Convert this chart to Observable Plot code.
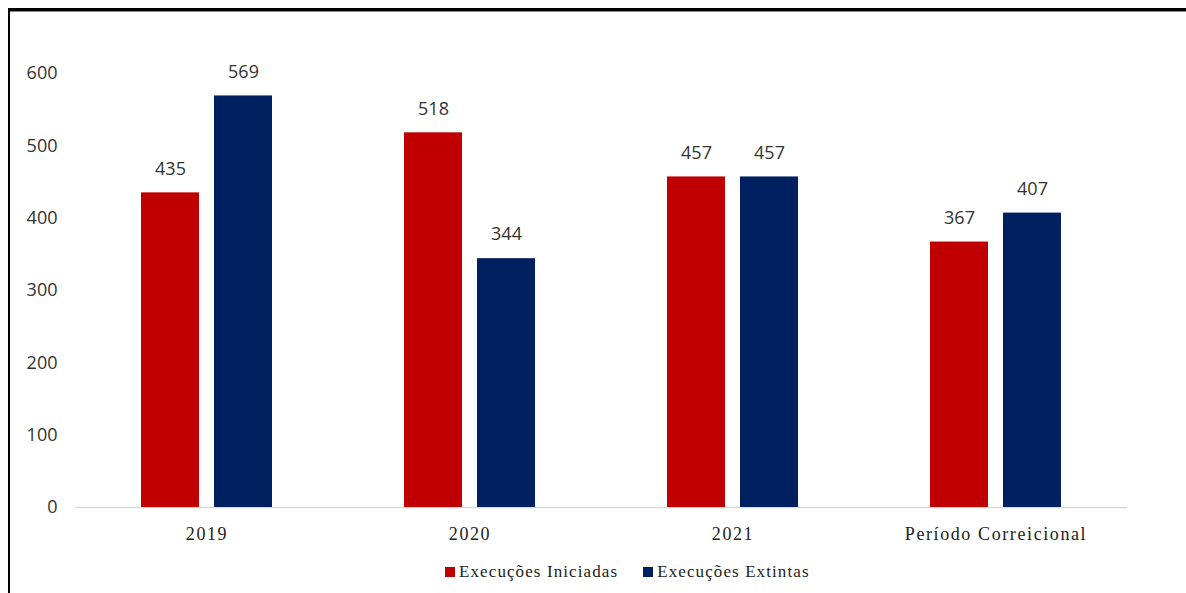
<!DOCTYPE html>
<html>
<head>
<meta charset="utf-8">
<script src="https://cdn.jsdelivr.net/npm/d3@7"></script>
<script src="https://cdn.jsdelivr.net/npm/@observablehq/plot@0.6"></script>
<style>
  html, body { margin: 0; padding: 0; background: #fff; }
  #wrap { position: relative; width: 1186px; height: 593px; overflow: hidden; }
  #frame { position: absolute; left: 8px; top: 8px; width: 1200px; height: 600px;
           border-top: 3px solid #000; border-left: 2px solid #000; box-shadow: 0 1px 0 #888 inset; }
  #chart { position: absolute; left: 0; top: 0; }
  #chart g[aria-label="fx-axis tick label"] text { letter-spacing: 1.6px; }
  #legend { position: absolute; left: 445px; top: 562px; display: flex; gap: 25px;
            font-family: "Liberation Serif", serif; font-size: 17px; letter-spacing: 1.1px; color: #222; }
  #legend .item { display: flex; align-items: center; gap: 4px; }
  #legend .sw { width: 10px; height: 10px; display: inline-block; }
</style>
</head>
<body>
<div id="wrap">
  <div id="frame"></div>
  <div id="chart"></div>
  <div id="legend"></div>
</div>
<script>
const categories = ["2019", "2020", "2021", "Período Correicional"];
const series = ["Execuções Iniciadas", "Execuções Extintas"];
const iniciadas = [435, 518, 457, 367];
const extintas = [569, 344, 457, 407];
const yTicks = [0, 100, 200, 300, 400, 500, 600];
const colors = ["#C00000", "#002060"];

const data = categories.flatMap((c, i) => [
  {cat: c, s: series[0], v: iniciadas[i]},
  {cat: c, s: series[1], v: extintas[i]}
]);

const chart = Plot.plot({
  width: 1186,
  height: 555,
  marginTop: 73,
  marginBottom: 48,
  marginLeft: 74,
  marginRight: 58,
  style: {background: "transparent", color: "#333"},
  fx: {domain: categories, padding: 0, label: null},
  x: {domain: series, paddingInner: 0.2027, paddingOuter: 0.879, axis: null},
  y: {domain: [0, 600], axis: null},
  color: {domain: series, range: colors},
  marks: [
    Plot.axisY({ticks: yTicks, tickSize: 0, tickPadding: 18, label: null,
      fontFamily: "Open Sans, sans-serif", fontSize: 18, fill: "#333"}),
    Plot.axisFx({anchor: "bottom", tickSize: 0, tickPadding: 20, label: null,
      fontFamily: "Liberation Serif, serif", fontSize: 18, fill: "#222"}),
    Plot.ruleY([0], {stroke: "#d9d9d9", strokeWidth: 1.5}),
    Plot.barY(data, {fx: "cat", x: "s", y: "v", fill: "s"}),
    Plot.text(data, {fx: "cat", x: "s", y: "v", text: d => String(d.v), dy: -24,
      fontFamily: "Open Sans, sans-serif", fontSize: 18, fill: "#333"})
  ]
});
document.getElementById("chart").appendChild(chart);

const legend = document.getElementById("legend");
series.forEach((s, i) => {
  const item = document.createElement("div");
  item.className = "item";
  const sw = document.createElement("span");
  sw.className = "sw";
  sw.style.background = colors[i];
  const t = document.createElement("span");
  t.textContent = s;
  item.appendChild(sw);
  item.appendChild(t);
  legend.appendChild(item);
});
</script>
</body>
</html>
